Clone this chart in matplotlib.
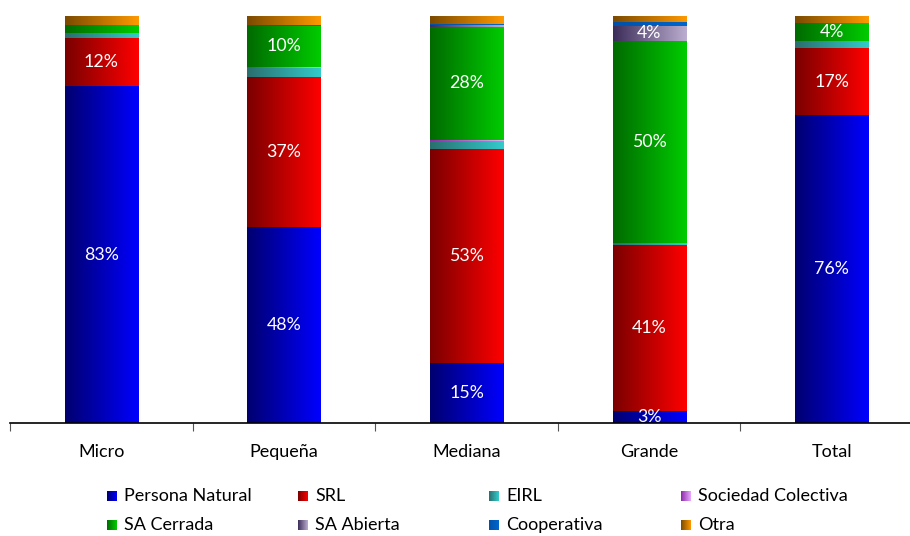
import numpy as np
import matplotlib
matplotlib.use("Agg")
import matplotlib.pyplot as plt
from matplotlib.colors import LinearSegmentedColormap
from matplotlib.patches import Rectangle

plt.rcParams['font.family'] = ['Lato', 'DejaVu Sans']

categories = ["Micro", "Pequeña", "Mediana", "Grande", "Total"]
series_names = ["Persona Natural", "SRL", "EIRL", "Sociedad Colectiva",
                "SA Cerrada", "SA Abierta", "Cooperativa", "Otra"]

# share (%) of each legal form within each company size
persona_natural = [82.7, 48.1, 14.7, 2.9, 75.6]
srl = [11.8, 36.8, 52.6, 40.8, 16.6]
eirl = [1.4, 2.3, 2.0, 0.5, 1.6]
sociedad_colectiva = [0.0, 0.3, 0.3, 0.0, 0.0]
sa_cerrada = [2.0, 10.1, 27.7, 49.7, 4.4]
sa_abierta = [0.0, 0.0, 0.5, 3.7, 0.0]
cooperativa = [0.0, 0.3, 0.3, 1.0, 0.0]
otra = [2.1, 2.1, 1.9, 1.4, 1.8]

values = [persona_natural, srl, eirl, sociedad_colectiva,
          sa_cerrada, sa_abierta, cooperativa, otra]

# gradient endpoints (left, right) per series
gradients = [
    ("#00006e", "#0000ff"),
    ("#7a0000", "#ff0000"),
    ("#2a6e6e", "#33cccc"),
    ("#8a2aa8", "#eaa8ff"),
    ("#006a00", "#00cc00"),
    ("#3a2c58", "#bcaed0"),
    ("#0050a8", "#0066cc"),
    ("#7a4a00", "#ff9900"),
]

W, H = 910, 536
fig = plt.figure(figsize=(W / 100, H / 100), dpi=100)
ax = fig.add_axes([10 / W, 113 / H, 913 / W, 407 / H])

bar_w = 0.4
grad = np.linspace(0, 1, 256).reshape(1, -1)
x = np.arange(len(categories))

for i, cat in enumerate(categories):
    bottom = 0.0
    for s in range(len(series_names)):
        v = values[s][i]
        if v <= 0:
            continue
        cmap = LinearSegmentedColormap.from_list("g%d" % s, gradients[s])
        ax.imshow(grad, cmap=cmap, aspect="auto", interpolation="bilinear",
                  extent=(x[i] - bar_w / 2, x[i] + bar_w / 2, bottom, bottom + v),
                  zorder=2)
        if v >= 2.5:
            ax.text(x[i], bottom + v / 2, f"{round(v):d}%", color="white",
                    ha="center", va="center", fontsize=12.8, zorder=3)
        bottom += v

ax.set_xlim(-0.5, len(categories) - 0.5)
ax.set_ylim(0, 100)
for side in ["top", "left", "right"]:
    ax.spines[side].set_visible(False)
ax.spines["bottom"].set_linewidth(1.2)
ax.spines["bottom"].set_color("black")
ax.set_yticks([])
ax.set_xticks(x)
ax.set_xticklabels(categories, fontsize=13)
ax.tick_params(axis="x", which="major", length=0, pad=15)
ax.set_xticks(np.arange(-0.5, len(categories), 1.0), minor=True)
ax.tick_params(axis="x", which="minor", length=6, width=0.8, color="#555555")

# legend: gradient squares laid out in two rows of four
col_px = [107, 298, 489, 681]
row_px = [496, 525]
sq = 10
for s, name in enumerate(series_names):
    r, c = divmod(s, 4)
    x0 = col_px[c]
    yc = row_px[r]
    n = 10
    c0 = np.array(matplotlib.colors.to_rgb(gradients[s][0]))
    c1 = np.array(matplotlib.colors.to_rgb(gradients[s][1]))
    for k in range(n):
        col = c0 + (c1 - c0) * (k + 0.5) / n
        fig.patches.append(Rectangle(((x0 + k * sq / n) / W, (H - yc - sq / 2) / H),
                                     sq / n / W, sq / H, transform=fig.transFigure,
                                     facecolor=col, edgecolor="none"))
    fig.text((x0 + sq + 7) / W, (H - yc) / H, name, fontsize=13,
             ha="left", va="center", color="black")

fig.savefig("out.png", dpi=100)
